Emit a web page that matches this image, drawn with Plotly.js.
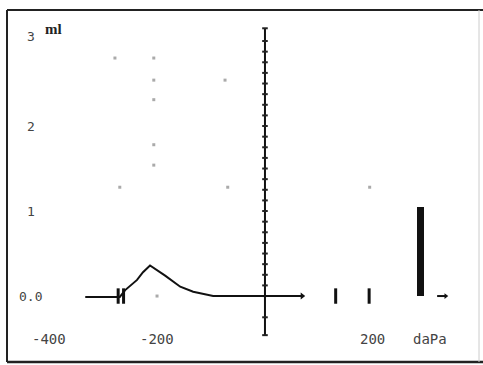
<!DOCTYPE html>
<html>
<head>
<meta charset="utf-8">
<script src="https://cdn.plot.ly/plotly-3.0.1.min.js"></script>
<style>html,body{margin:0;padding:0;background:#fff;}#chart{width:483px;height:365px;}</style>
</head>
<body>
<div id="chart"></div>
<script>
// Tympanogram: pressure (daPa) vs compliance (ml)
const curvePressure = [-333, -269, -259, -237, -226, -213, -185, -157, -133, -96, 69];
const curveVolume   = [-0.01, -0.01, 0.07, 0.19, 0.28, 0.36, 0.24, 0.11, 0.05, 0.0, 0.0];

const axisTickVolume = [3.15, 3.0, 2.875, 2.75, 2.625, 2.5, 2.375, 2.25, 2.125, 2.0, 1.875, 1.75, 1.625, 1.5,
                        1.375, 1.25, 1.125, 1.0, 0.875, 0.75, 0.625, 0.5, 0.375, 0.25, 0.125, 0.0, -0.25, -0.46];

const markPressure = [-272, -262, 131, 193];
const markVolume   = [0, 0, 0, 0];

const barPressure = [288];
const barVolume   = [1.05];

const arrowPressure = [319, 335];
const arrowVolume   = [0, 0];

const gridPressure = [-278, -206, -206, -74, -206, -206, -206, -269, -69, 194, -200];
const gridVolume   = [2.8, 2.8, 2.54, 2.54, 2.31, 1.78, 1.54, 1.28, 1.28, 1.28, 0.0];

const yLabelValues = [3.0, 2.0, 1.0, 0.0];
const yLabelTexts  = ['3', '2', '1', '0.0'];
const xLabelValues = [-400, -200, 200];
const xLabelTexts  = ['-400', '-200', '200'];
const unitX = 'daPa';
const unitY = 'ml';

const traces = [
  {x: gridPressure, y: gridVolume, mode: 'markers', type: 'scatter',
   marker: {color: '#aaa', size: 3, symbol: 'square'}, hoverinfo: 'skip'},
  {x: axisTickVolume.map(() => 0), y: axisTickVolume, mode: 'lines+markers', type: 'scatter',
   line: {color: '#111', width: 2}, marker: {symbol: 'line-ew', size: 4, line: {color: '#222', width: 2}}, hoverinfo: 'skip'},
  {x: curvePressure, y: curveVolume, mode: 'lines', type: 'scatter',
   line: {color: '#111', width: 2}, hoverinfo: 'skip'},
  {x: [curvePressure[curvePressure.length - 1]], y: [curveVolume[curveVolume.length - 1]], mode: 'markers', type: 'scatter',
   marker: {symbol: 'triangle-right', size: 6, color: '#111'}, hoverinfo: 'skip'},
  {x: markPressure, y: markVolume, mode: 'markers', type: 'scatter',
   marker: {symbol: 'line-ns', size: 11, line: {color: '#111', width: 3}}, hoverinfo: 'skip'},
  {x: barPressure, y: barVolume, type: 'bar', width: 13,
   marker: {color: '#111', line: {width: 0}}, hoverinfo: 'skip'},
  {x: arrowPressure, y: arrowVolume, mode: 'lines', type: 'scatter',
   line: {color: '#111', width: 2}, hoverinfo: 'skip'},
  {x: [arrowPressure[1]], y: [arrowVolume[1]], mode: 'markers', type: 'scatter',
   marker: {symbol: 'triangle-right', size: 5, color: '#111'}, hoverinfo: 'skip'}
];

const fontBase = {family: 'DejaVu Sans Mono, monospace', size: 14, color: '#444'};
const annotations = [];
yLabelValues.forEach((v, i) => {
  annotations.push({x: 0.05, xref: 'paper', y: v, yref: 'y', text: yLabelTexts[i],
    showarrow: false, xanchor: 'center', yanchor: 'middle', font: {family: fontBase.family, size: 13, color: '#444'},
    yshift: i === 0 ? 5 : 0});
});
annotations.push({x: 0.075, xref: 'paper', y: 3.0, yref: 'y', text: '<b>' + unitY + '</b>',
  showarrow: false, xanchor: 'left', yanchor: 'middle', yshift: 12,
  font: {family: 'Liberation Serif, serif', size: 15, color: '#222'}});
xLabelValues.forEach((v, i) => {
  annotations.push({x: v, xref: 'x', y: -0.5, yref: 'y', text: xLabelTexts[i],
    showarrow: false, xanchor: 'center', yanchor: 'middle', font: fontBase});
});
annotations.push({x: 306, xref: 'x', y: -0.5, yref: 'y', text: unitX,
  showarrow: false, xanchor: 'center', yanchor: 'middle', font: fontBase});

const frame = [
  {type: 'line', xref: 'paper', yref: 'paper', x0: 0, x1: 1, y0: 1, y1: 1, line: {color: '#222', width: 2}},
  {type: 'line', xref: 'paper', yref: 'paper', x0: 0, x1: 0, y0: 0, y1: 1, line: {color: '#222', width: 2}},
  {type: 'line', xref: 'paper', yref: 'paper', x0: 0, x1: 1, y0: 0, y1: 0, line: {color: '#222', width: 2.5}},
  {type: 'line', xref: 'paper', yref: 'paper', x0: 0.9916, x1: 0.9916, y0: 0, y1: 1, line: {color: '#ccc', width: 1}}
];

const layout = {
  width: 483, height: 365,
  margin: {l: 7, r: 0, t: 10, b: 3, pad: 0},
  paper_bgcolor: '#fff', plot_bgcolor: '#fff',
  showlegend: false,
  xaxis: {range: [-478, 404], showgrid: false, zeroline: false, showticklabels: false, ticks: '',
          showline: false, fixedrange: true},
  yaxis: {range: [-0.776, 3.365], showgrid: false, zeroline: false, showticklabels: false, ticks: '',
          showline: false, fixedrange: true},
  shapes: frame,
  annotations: annotations,
  bargap: 0
};

Plotly.newPlot('chart', traces, layout, {displayModeBar: false, staticPlot: true});
</script>
</body>
</html>
